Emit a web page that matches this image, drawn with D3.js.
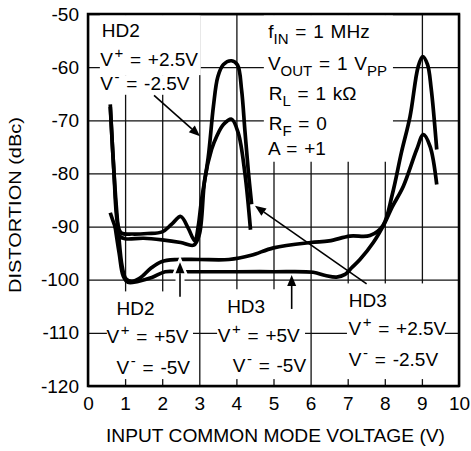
<!DOCTYPE html>
<html>
<head>
<meta charset="utf-8">
<style>
  body { margin: 0; background: #fff; }
  svg { display: block; font-family: Arial, 'Liberation Sans', sans-serif; }
</style>
</head>
<body>
<svg width="471" height="451"></svg>
<script src="https://d3js.org/d3.v7.min.js"></script>
<script>
  // axis ticks
  let xTicks = [0, 1, 2, 3, 4, 5, 6, 7, 8, 9, 10];
  let yTicks = [-120, -110, -100, -90, -80, -70, -60, -50];

  // curves: [input CM voltage, distortion dBc]
  let hd2Low = [[0.6,-67],[0.7,-80],[0.8,-89.5],[0.9,-91.2],[1.2,-91.4],[1.6,-91.3],[2.0,-91],[2.25,-89.6],[2.5,-88.1],[2.7,-90.3],[2.88,-92.7],[2.97,-90],[3.06,-85],[3.24,-77],[3.38,-67.4],[3.5,-61.8],[3.65,-59.5],[3.87,-58.8],[4.03,-59.6],[4.14,-64.3],[4.23,-72],[4.32,-79.5],[4.41,-85.8]];
  let hd3Low = [[0.6,-87.4],[0.72,-89.8],[0.85,-91.8],[1.0,-92.3],[1.5,-92.2],[2.0,-92.5],[2.5,-93],[2.85,-93.5],[3.0,-91.5],[3.15,-81],[3.33,-75.5],[3.47,-73],[3.65,-70.8],[3.87,-69.8],[4.05,-72.4],[4.23,-80],[4.38,-90.6]];
  let hd2High = [[0.6,-67.5],[0.72,-82],[0.82,-91],[0.92,-97.5],[1.02,-99.8],[1.18,-100.3],[1.4,-99.7],[1.7,-97.8],[1.98,-96.6],[2.4,-96.2],[3,-96.2],[3.8,-96.2],[4.4,-95.4],[5,-94],[6,-93],[6.5,-92.7],[7.06,-91.8],[7.6,-91.7],[7.95,-89.8],[8.2,-84],[8.45,-76],[8.68,-69.3],[8.9,-59.9],[9.02,-58],[9.15,-59.5],[9.25,-64],[9.4,-75.5]];
  let hd3High = [[0.72,-89.5],[0.84,-95],[0.95,-99.3],[1.08,-100.5],[1.35,-100.3],[1.72,-99.6],[2.08,-98.5],[2.5,-98.5],[4,-98.5],[5,-98.5],[6.07,-98.6],[6.4,-99.2],[6.7,-99.5],[6.93,-99],[7.1,-97.8],[7.33,-96.2],[7.69,-93],[8.0,-89.3],[8.2,-86.3],[8.5,-82.4],[8.86,-75.5],[9.04,-72.7],[9.22,-74.9],[9.4,-82.1]];

  // white label boxes that hide the grid: [x0, x1, y0, y1] in data units
  let boxes = [
    [0.32, 3.04, -50.2, -61.5],
    [0.32, 2.7, -61.5, -65.2],
    [4.74, 8.22, -50.2, -77.8],
    [0.51, 2.83, -102.2, -118.7],
    [3.48, 5.85, -101.8, -118.7],
    [6.98, 9.62, -100.7, -118.7]
  ];

  // arrows: [from x, from y, to x, to y, white halo]
  let arrows = [
    [1.78, -65.3, 3.02, -73.0, false],
    [7.51, -100.8, 4.5, -86.1, false],
    [2.48, -103.2, 2.48, -96.7, true],
    [5.49, -105.5, 5.49, -99.1, false]
  ];

  // labels: [x, y, parts]; part = [text, "sup" | "sub" | undefined]
  let labels = [
    [0.37, -54.4, [["HD2"]]],
    [0.33, -59.8, [["V"], ["+", "sup"], [" = +2.5V"]]],
    [0.33, -64.3, [["V"], ["-", "sup"], [" = -2.5V"]]],
    [4.86, -54.6, [["f"], ["IN", "sub"], [" = 1 MHz"]]],
    [4.85, -60.5, [["V"], ["OUT", "sub"], [" = 1 V"], ["PP", "sub"]]],
    [4.87, -66.2, [["R"], ["L", "sub"], [" = 1 kΩ"]]],
    [4.87, -71.8, [["R"], ["F", "sub"], [" = 0"]]],
    [4.85, -76.5, [["A = +1"]]],
    [0.77, -106.6, [["HD2"]]],
    [0.5, -112.0, [["V"], ["+", "sup"], [" = +5V"]]],
    [0.77, -117.7, [["V"], ["-", "sup"], [" = -5V"]]],
    [3.75, -106.2, [["HD3"]]],
    [3.5, -111.7, [["V"], ["+", "sup"], [" = +5V"]]],
    [3.9, -117.3, [["V"], ["-", "sup"], [" = -5V"]]],
    [7.03, -105.1, [["HD3"]]],
    [7.02, -110.4, [["V"], ["+", "sup"], [" = +2.5V"]]],
    [7.03, -116.2, [["V"], ["-", "sup"], [" = -2.5V"]]]
  ];

  let svg = d3.select("svg");
  let plotL = 88, plotR = 459, plotT = 14, plotB = 386;

  let x = d3.scaleLinear().domain([0, 10]).range([plotL, plotR]);
  let y = d3.scaleLinear().domain([-120, -50]).range([plotB, plotT]);

  // grid + tick labels
  let gx = svg.append("g")
    .attr("transform", "translate(0," + plotB + ")")
    .call(d3.axisBottom(x).tickValues(xTicks).tickSize(-(plotB - plotT)).tickPadding(11).tickFormat(d => String(d)));
  let gy = svg.append("g")
    .attr("transform", "translate(" + plotL + ",0)")
    .call(d3.axisLeft(y).tickValues(yTicks).tickSize(-(plotR - plotL)).tickPadding(9).tickFormat(d => String(d)));

  [gx, gy].forEach(g => {
    g.select(".domain").remove();
    g.selectAll("line").attr("stroke", "#111").attr("stroke-width", 1.3);
    g.selectAll("text").attr("fill", "#000").style("font-size", "19px").style("font-family", "Arial, 'Liberation Sans', sans-serif");
  });

  // white boxes over the grid
  svg.selectAll(".box")
    .data(boxes)
    .join("rect")
    .attr("x", d => x(d[0]))
    .attr("y", d => y(d[2]))
    .attr("width", d => x(d[1]) - x(d[0]))
    .attr("height", d => y(d[3]) - y(d[2]))
    .attr("fill", "#fff");

  // frame
  svg.append("rect")
    .attr("x", plotL).attr("y", plotT)
    .attr("width", plotR - plotL).attr("height", plotB - plotT)
    .attr("fill", "none").attr("stroke", "#000").attr("stroke-width", 2.5);

  let line = d3.line()
    .x(d => x(d[0]))
    .y(d => y(d[1]))
    .curve(d3.curveCatmullRom.alpha(0.5));

  svg.selectAll(".curve")
    .data([hd3High, hd2High, hd3Low, hd2Low])
    .join("path")
    .attr("d", line)
    .attr("fill", "none")
    .attr("stroke", "#000")
    .attr("stroke-width", 3.7)
    .attr("stroke-linejoin", "round");

  // arrows
  arrows.forEach(a => {
    let x0 = x(a[0]), y0 = y(a[1]), x1 = x(a[2]), y1 = y(a[3]);
    let ang = Math.atan2(y1 - y0, x1 - x0);
    let len = 11, hw = 4.5;
    let bx = x1 - len * Math.cos(ang), by = y1 - len * Math.sin(ang);
    let nx = -Math.sin(ang) * hw, ny = Math.cos(ang) * hw;
    let head = [[x1, y1], [bx + nx, by + ny], [bx - nx, by - ny]];
    if (a[4]) {
      svg.append("line")
        .attr("x1", x0).attr("y1", y0).attr("x2", bx).attr("y2", by)
        .attr("stroke", "#fff").attr("stroke-width", 9);
      svg.append("polygon")
        .attr("points", head.map(p => p.join(",")).join(" "))
        .attr("fill", "#fff").attr("stroke", "#fff").attr("stroke-width", 5);
    }
    svg.append("line")
      .attr("x1", x0).attr("y1", y0).attr("x2", bx).attr("y2", by)
      .attr("stroke", "#000").attr("stroke-width", 1.6);
    svg.append("polygon")
      .attr("points", head.map(p => p.join(",")).join(" "))
      .attr("fill", "#000");
  });

  // labels
  labels.forEach(l => {
    let t = svg.append("text")
      .attr("x", x(l[0]))
      .attr("y", y(l[1]))
      .style("font-size", "19px")
      .style("word-spacing", "1.5px")
      .attr("fill", "#000");
    let shift = 0;
    l[2].forEach(p => {
      let s = p[1] == "sup" ? -8 : p[1] == "sub" ? 6 : 0;
      t.append("tspan")
        .attr("dy", s - shift)
        .attr("dx", p[1] == "sup" ? 1.5 : 0)
        .style("font-size", p[1] ? "15px" : "19px")
        .text(p[0]);
      shift = s;
    });
  });

  // axis titles
  svg.append("text")
    .attr("x", 275.5)
    .attr("y", 442)
    .attr("text-anchor", "middle")
    .attr("textLength", 339)
    .attr("lengthAdjust", "spacingAndGlyphs")
    .style("font-size", "17.5px")
    .text("INPUT COMMON MODE VOLTAGE (V)");

  svg.append("text")
    .attr("transform", "translate(21,205) rotate(-90)")
    .attr("text-anchor", "middle")
    .attr("textLength", 176)
    .attr("lengthAdjust", "spacingAndGlyphs")
    .style("font-size", "16.5px")
    .text("DISTORTION (dBc)");
</script>
</body>
</html>
